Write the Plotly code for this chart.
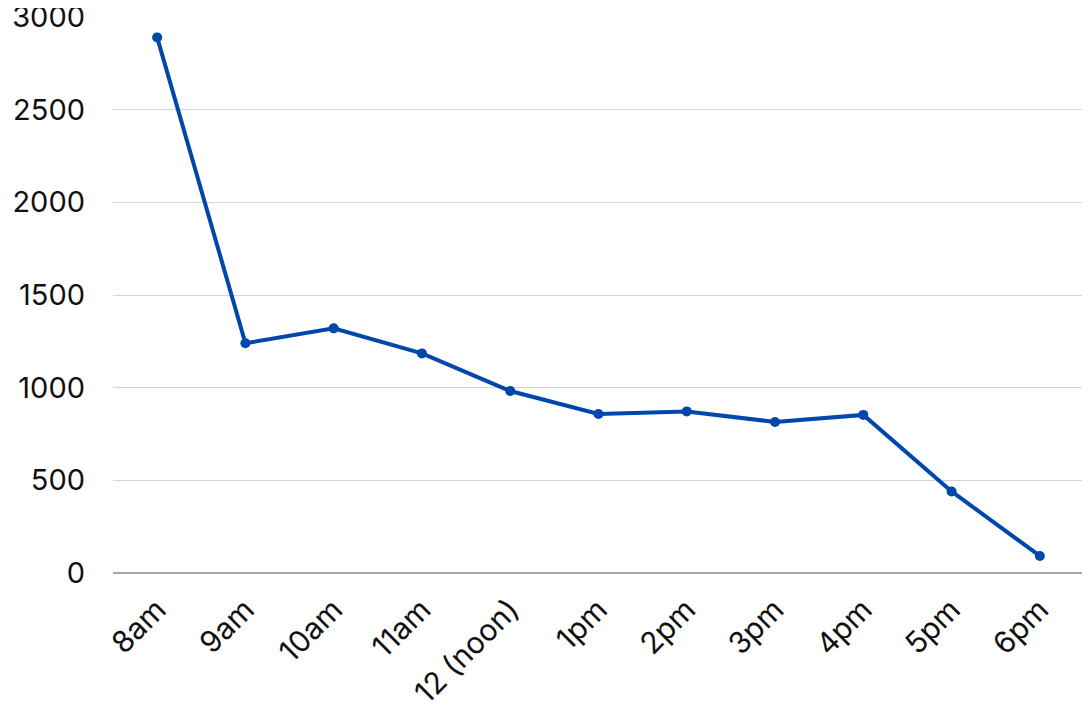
import plotly.graph_objects as go

hours = ["8am", "9am", "10am", "11am", "12 (noon)", "1pm", "2pm", "3pm", "4pm", "5pm", "6pm"]
counts = [2890, 1240, 1320, 1185, 982, 858, 872, 815, 853, 440, 92]
y_ticks = [0, 500, 1000, 1500, 2000, 2500, 3000]

fig = go.Figure()
fig.add_trace(
    go.Scatter(
        x=hours,
        y=counts,
        mode="lines+markers",
        line=dict(color="#0047AB", width=4),
        marker=dict(color="#0047AB", size=10),
        showlegend=False,
    )
)
# page body adds 8px offset, so margins are shifted to match
fig.update_layout(
    width=1090,
    height=716,
    margin=dict(l=105, r=14, t=9, b=151),
    plot_bgcolor="white",
    paper_bgcolor="white",
    font=dict(family="Inter, Open Sans, sans-serif", color="#111111", size=30),
    xaxis=dict(
        type="category",
        range=[-0.5, 10.5],
        tickangle=-45,
        showgrid=False,
        showline=False,
        ticks="",
        automargin=False,
        ticklabelstandoff=12,
        tickfont=dict(size=30),
    ),
    yaxis=dict(
        range=[0, 3000],
        tickvals=y_ticks,
        showgrid=True,
        gridcolor="#d4d4d4",
        gridwidth=1,
        zeroline=True,
        zerolinecolor="#a6a6a6",
        zerolinewidth=2,
        showline=False,
        ticks="",
        automargin=False,
        ticklabeloverflow="allow",
        ticklabelstandoff=27,
        tickfont=dict(size=29),
    ),
)
fig.write_html("out.html")
